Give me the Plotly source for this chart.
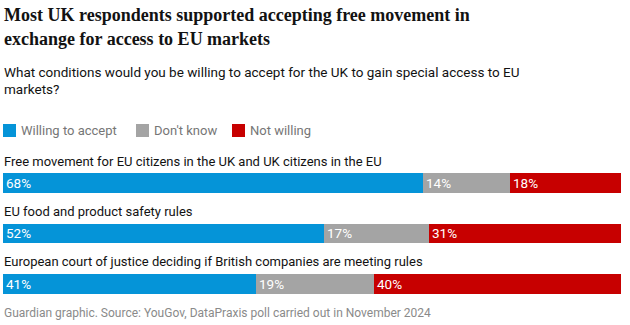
import plotly.graph_objects as go

categories = [
    "Free movement for EU citizens in the UK and UK citizens in the EU",
    "EU food and product safety rules",
    "European court of justice deciding if British companies are meeting rules",
]
series_names = ["Willing to accept", "Don't know", "Not willing"]
willing = [68, 52, 41]
dont_know = [14, 17, 19]
not_willing = [18, 31, 40]
series_values = [willing, dont_know, not_willing]
colors = ["#0594d8", "#a4a4a4", "#c70000"]

title_lines = ["Most UK respondents supported accepting free movement in",
               "exchange for access to EU markets"]
subtitle_lines = ["What conditions would you be willing to accept for the UK to gain special access to EU",
                  "markets?"]
source = "Guardian graphic. Source: YouGov, DataPraxis poll carried out in November 2024"

W, H = 630, 325
def fx(px): return px / W
def fy(py): return 1 - py / H

SANS = "Roboto, 'Noto Sans', sans-serif"
SERIF = "'Liberation Serif', 'DejaVu Serif', serif"

fig = go.Figure()
for name, vals, col in zip(series_names, series_values, colors):
    fig.add_trace(go.Bar(
        y=categories, x=vals, name=name, orientation="h",
        marker=dict(color=col, line=dict(width=0)),
        width=0.39,
        texttemplate="%{x}%", textposition="inside", insidetextanchor="start",
        textfont=dict(color="white", size=13.5, family=SANS),
        constraintext="none", showlegend=False, hoverinfo="skip",
    ))

annotations = []
for i, line in enumerate(title_lines):
    annotations.append(dict(text="<b>" + line + "</b>", xref="paper", yref="paper",
                            x=fx(2), y=fy(15 + 24 * i), xanchor="left", yanchor="middle",
                            showarrow=False, font=dict(family=SERIF, size=18, color="#121212")))
for i, line in enumerate(subtitle_lines):
    annotations.append(dict(text=line, xref="paper", yref="paper",
                            x=fx(2), y=fy(72 + 17 * i), xanchor="left", yanchor="middle",
                            showarrow=False, font=dict(family=SANS, size=13.5, color="#121212")))
leg_sq_x = [3, 136, 232]
shapes = []
for name, col, sx in zip(series_names, colors, leg_sq_x):
    shapes.append(dict(type="rect", xref="paper", yref="paper",
                       x0=fx(sx), x1=fx(sx + 13), y0=fy(137), y1=fy(124),
                       fillcolor=col, line=dict(width=0)))
    annotations.append(dict(text=name, xref="paper", yref="paper",
                            x=fx(sx + 16), y=fy(130.5), xanchor="left", yanchor="middle",
                            showarrow=False, font=dict(family=SANS, size=13, color="#767676")))
for cat in categories:
    annotations.append(dict(text=cat, xref="paper", yref="y", x=fx(2), y=cat,
                            xanchor="left", yanchor="middle", yshift=22,
                            showarrow=False, font=dict(family=SANS, size=13, color="#121212")))
annotations.append(dict(text=source, xref="paper", yref="paper",
                        x=fx(2), y=fy(312.5), xanchor="left", yanchor="middle",
                        showarrow=False, font=dict(family=SANS, size=12, color="#8a8a8a")))

fig.update_layout(
    width=W, height=H, margin=dict(l=0, r=0, t=0, b=0),
    paper_bgcolor="white", plot_bgcolor="white",
    barmode="stack", bargap=0,
    xaxis=dict(range=[0, 100], domain=[fx(3), fx(621)], visible=False, fixedrange=True),
    yaxis=dict(type="category", categoryorder="array", categoryarray=categories,
               range=[2.5, -0.5], domain=[fy(308.85), fy(157.85)], visible=False, fixedrange=True),
    annotations=annotations, shapes=shapes, showlegend=False,
)
fig.write_html("out.html")
